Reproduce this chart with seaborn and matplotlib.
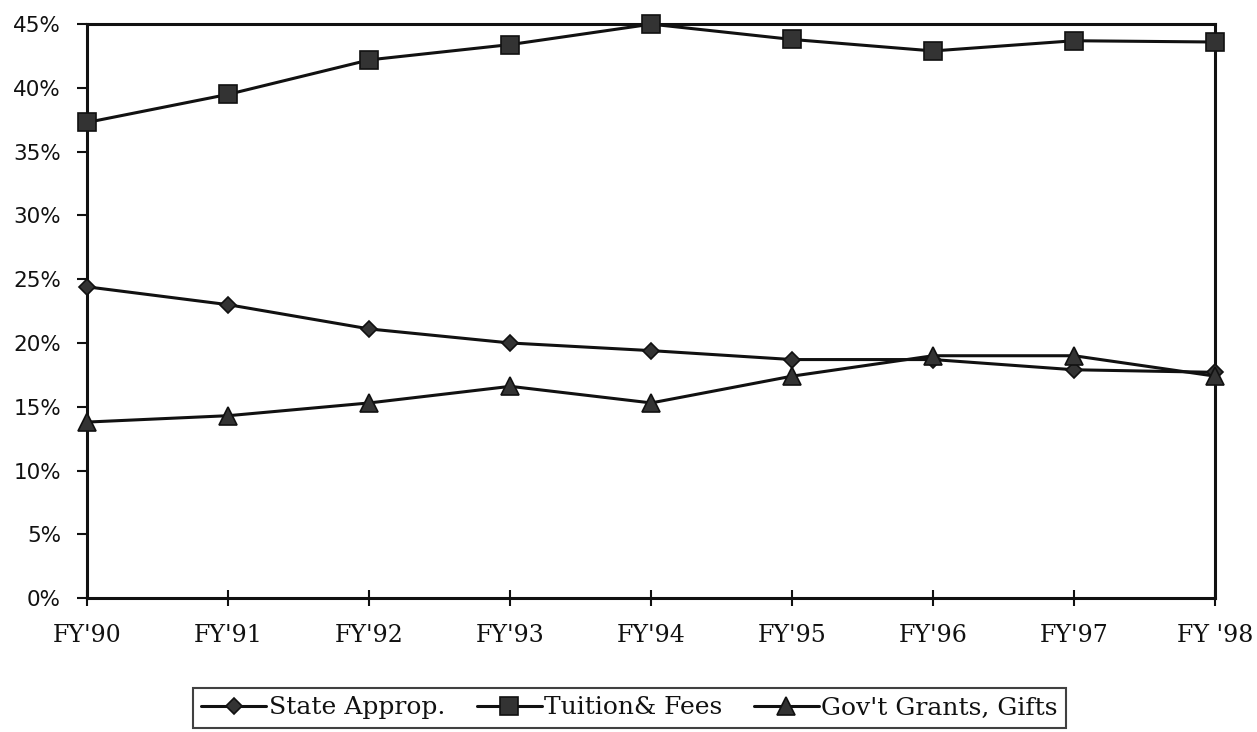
import matplotlib
matplotlib.use("Agg")
import matplotlib.pyplot as plt
import seaborn as sns
import pandas as pd

years = ["FY'90", "FY'91", "FY'92", "FY'93", "FY'94", "FY'95", "FY'96", "FY'97", "FY '98"]
state_approp = [24.4, 23.0, 21.1, 20.0, 19.4, 18.7, 18.7, 17.9, 17.7]
tuition_fees = [37.3, 39.5, 42.2, 43.4, 45.0, 43.8, 42.9, 43.7, 43.6]
gov_grants = [13.8, 14.3, 15.3, 16.6, 15.3, 17.4, 19.0, 19.0, 17.4]
series_names = ["State Approp.", "Tuition& Fees", "Gov't Grants, Gifts"]
y_ticks = [0, 5, 10, 15, 20, 25, 30, 35, 40, 45]

rows = []
for name, vals in zip(series_names, [state_approp, tuition_fees, gov_grants]):
    for i, v in enumerate(vals):
        rows.append({"x": i, "year": years[i], "value": v, "series": name})
df = pd.DataFrame(rows)

sns.set_theme(style="white")
plt.rcParams['font.family'] = ['DejaVu Serif']
plt.rcParams['text.color'] = '#111111'
plt.rcParams['xtick.color'] = '#111111'
plt.rcParams['ytick.color'] = '#111111'

fig = plt.figure(figsize=(12.57, 7.32), dpi=100)
ax = fig.add_axes([0.0696, 0.183, 0.8970, 0.784])

markers = {"State Approp.": "D", "Tuition& Fees": "s", "Gov't Grants, Gifts": "^"}
sizes_map = {"State Approp.": 8.5, "Tuition& Fees": 12.5, "Gov't Grants, Gifts": 13}

for name in series_names:
    sub = df[df.series == name]
    sns.lineplot(data=sub, x="x", y="value", ax=ax, color="#111111",
                 marker=markers[name], markersize=sizes_map[name],
                 markerfacecolor="#333333", markeredgecolor="#111111",
                 markeredgewidth=1.2, linewidth=2.2, label=name, legend=False,
                 clip_on=False, zorder=5)

ax.set_xlim(0, len(years) - 1)
ax.set_ylim(0, 45)
ax.set_xticks(range(len(years)))
ax.set_xticklabels(years, fontsize=17, family=['DejaVu Serif'])
ax.set_yticks(y_ticks)
ax.set_yticklabels([f"{t}%" for t in y_ticks], fontsize=15.5, family=['DejaVu Sans'])
ax.set_xlabel("")
ax.set_ylabel("")
for s in ax.spines.values():
    s.set_visible(True)
    s.set_color("#111111")
    s.set_linewidth(2.2)
ax.tick_params(axis="y", direction="out", length=7, width=1.5, color="#111111", pad=12, left=True)
ax.tick_params(axis="x", direction="inout", length=12, width=1.5, color="#111111", pad=13, bottom=True)

handles, labels = ax.get_legend_handles_labels()
leg = fig.legend(handles, labels, loc="center", bbox_to_anchor=(0.5008, 0.0328),
                 ncol=3, frameon=True, fancybox=False, fontsize=18,
                 handlelength=2.6, handletextpad=0.1, columnspacing=1.25,
                 borderpad=0.35, edgecolor="#111111")
leg.get_frame().set_linewidth(1.5)

fig.savefig("out.png", dpi=100)
